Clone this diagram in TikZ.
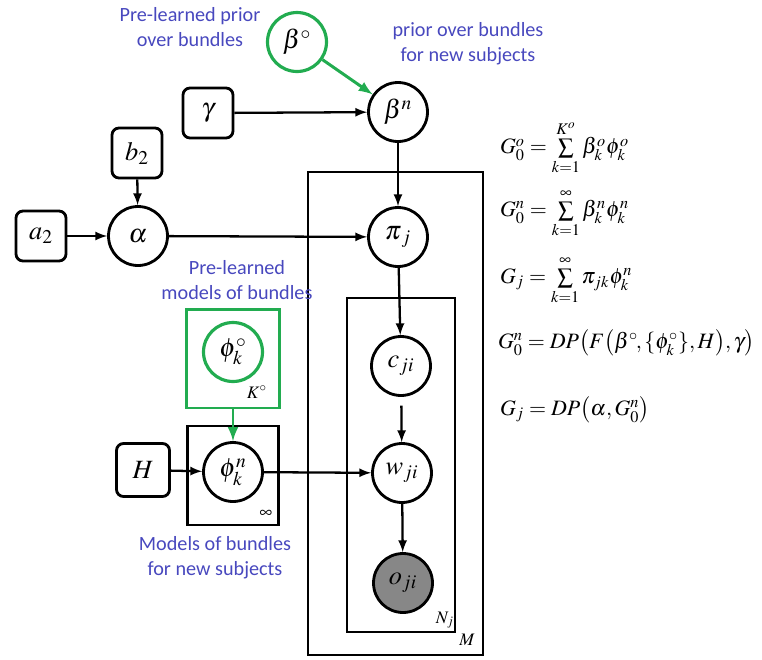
\documentclass[tikz,border=0pt]{standalone}
\usepackage{amsmath}
\usepackage{amssymb}
\usepackage[no-math]{fontspec}
\usepackage{mathptmx}
\usepackage{tikz}
\usetikzlibrary{shapes.geometric, arrows, positioning, calc}
\newfontfamily\notefont{Carlito}
\definecolor{priorgreen}{RGB}{34, 172, 80}
\definecolor{noteblue}{RGB}{72, 72, 190}
\definecolor{obsgray}{RGB}{135, 135, 135}
\tikzset{
  latent/.style={circle, draw, line width=1.6pt, minimum size=1.18cm, inner sep=0pt, font=\fontsize{15}{18}\selectfont},
  hyper/.style={rectangle, rounded corners=4pt, draw, line width=1.6pt, minimum size=1.0cm, inner sep=0pt, font=\fontsize{15}{18}\selectfont},
  plate/.style={rectangle, draw, line width=1.3pt, inner sep=0pt},
  note/.style={text=noteblue, align=center, font=\notefont\fontsize{11.5}{14}\selectfont},
  edge/.style={-latex, line width=1.3pt},
  eqn/.style={anchor=west, inner sep=1pt, font=\fontsize{12.5}{15}\selectfont}
}

\begin{document}
\begin{tikzpicture}[x=0.02cm, y=-0.02cm]
        \useasboundingbox (0,0) rectangle (762,660);

        % Plates
        \node[plate, minimum width=3.5cm, minimum height=9.66cm] (platem) at (395.5,413.5) {};
        \node[plate, minimum width=2.16cm, minimum height=6.68cm] (platen) at (401,465) {};
        \node[plate, draw=priorgreen, line width=1.7pt, minimum width=1.86cm, minimum height=1.98cm] (platek) at (233,358.5) {};
        \node[plate, minimum width=1.82cm, minimum height=1.98cm] (plateinf) at (233,475.5) {};
        \node (mlab) at (467,640) {$\boldsymbol{M}$};
        \node (nlab) at (445,620) {$\boldsymbol{N_j}$};
        \node (klab) at (257,392) {$K^{\circ}$};
        \node (inflab) at (266,514) {$\infty$};

        % Hyperparameters
        \node[hyper] (gamma) at (208,113) {$\gamma$};
        \node[hyper] (b2) at (137,153) {$b_2$};
        \node[hyper] (a2) at (41,236) {$a_2$};
        \node[hyper, minimum size=1.06cm] (h) at (143,470) {$H$};

        % Variables
        \node[latent, draw=priorgreen, line width=1.8pt] (betao) at (297,42) {$\beta^{\circ}$};
        \node[latent] (betan) at (398,112) {$\beta^{n}$};
        \node[latent] (alpha) at (138,236) {$\alpha$};
        \node[latent] (pi) at (398,237) {$\boldsymbol{\pi}_{\boldsymbol{j}}$};
        \node[latent, draw=priorgreen, line width=1.8pt] (phio) at (233,352) {$\phi_k^{\circ}$};
        \node[latent] (phin) at (233,472) {$\phi_k^{n}$};
        \node[latent] (c) at (401,366) {$c_{ji}$};
        \node[latent] (w) at (402,473) {$w_{ji}$};
        \node[latent, fill=obsgray] (o) at (403,583) {$o_{ji}$};

        % Edges
        \draw[edge, draw=priorgreen, line width=1.7pt] (betao) -- (betan);
        \draw[edge] (gamma) -- (betan);
        \draw[edge] (betan) -- (pi);
        \draw[edge] (b2) -- (alpha);
        \draw[edge] (a2) -- (alpha);
        \draw[edge] (alpha) -- (pi);
        \draw[edge] (pi) -- (c);
        \draw[edge, shorten <=5pt] (c) -- (w);
        \draw[edge] (w) -- (o);
        \draw[edge] (h) -- (phin);
        \draw[edge, draw=priorgreen, line width=1.7pt] (platek) -- (phin);
        \draw[edge] (phin) -- (w);

        % Labels
        \node[note] (notebetao) at (190,27) {Pre-learned prior\\over bundles};
        \node[note] (notebetan) at (468,44) {prior over bundles\\for new subjects};
        \node[note] (notephio) at (237,280) {Pre-learned\\models of bundles};
        \node[note] (notephin) at (215,558) {Models of bundles\\for new subjects};

        % Equations
        \node[eqn] (eqa) at (498,148) {$G_0^{o} = \sum\limits_{k=1}^{K^{o}} \beta_k^{o}\phi_k^{o}$};
        \node[eqn] (eqb) at (498,213) {$G_0^{n} = \sum\limits_{k=1}^{\infty} \beta_k^{n}\phi_k^{n}$};
        \node[eqn] (eqc) at (498,280) {$G_j = \sum\limits_{k=1}^{\infty} \pi_{jk}\phi_k^{n}$};
        \node[eqn] (eqd) at (496,343) {$G_0^{n} = DP\bigl(F\bigl(\beta^{\circ}\!, \{\phi_k^{\circ}\}, H\bigr), \gamma\bigr)$};
        \node[eqn] (eqe) at (498,410) {$G_j = DP\bigl(\alpha, G_0^{n}\bigr)$};
    \end{tikzpicture}
\end{document}
